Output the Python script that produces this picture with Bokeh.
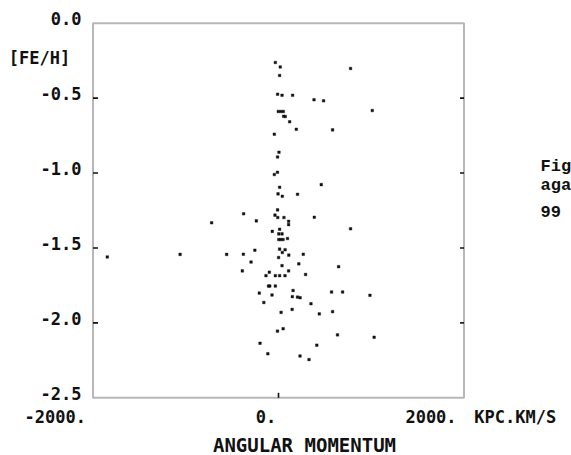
from bokeh.plotting import figure
from bokeh.models import Range1d, Label, BoxAnnotation
from bokeh.embed import file_html
from bokeh.resources import INLINE

# Angular momentum (kpc km/s) and [Fe/H]
ang_mom = [-34, 19, 777, 12, -10, 38, 152, 383, 486, 1011, -2, 25, 52, 55, 73,
           120, 192, 583, -45, 5, -10, -11, -45, 12, 461, -5, 41, 205, -10, -376,
           -38, -8, 59, 386, -239, -721, 109, 109, 12, -67, 777, 3, 38, 3, 25,
           49, 97, 12, 71, -255, 41, -379, -559, -1061, -1846, 111, 267, 1, -296,
           219, 38, 648, -390, -99, 109, 292, -135, -34, 12, 70, -108, -94, -34,
           157, -207, -70, 149, 205, 233, 572, 691, 986, -158, 350, 147, 28, 440,
           583, 50, -11, 636, 1031, -199, 413, -115, 232, 329]
feh = [-0.262, -0.292, -0.302, -0.349, -0.474, -0.481, -0.481, -0.511, -0.518,
       -0.583, -0.589, -0.589, -0.589, -0.621, -0.623, -0.658, -0.708, -0.712,
       -0.741, -0.861, -0.893, -0.995, -1.010, -1.095, -1.077, -1.139, -1.155,
       -1.142, -1.246, -1.272, -1.281, -1.297, -1.297, -1.295, -1.319, -1.332,
       -1.322, -1.344, -1.375, -1.389, -1.372, -1.406, -1.406, -1.444, -1.444,
       -1.444, -1.437, -1.508, -1.512, -1.515, -1.530, -1.542, -1.543, -1.543,
       -1.560, -1.548, -1.542, -1.564, -1.594, -1.606, -1.618, -1.625, -1.653,
       -1.662, -1.653, -1.677, -1.685, -1.685, -1.685, -1.685, -1.754, -1.754,
       -1.754, -1.784, -1.801, -1.814, -1.825, -1.828, -1.832, -1.794, -1.794,
       -1.816, -1.864, -1.872, -1.910, -1.930, -1.940, -1.925, -2.039, -2.055,
       -2.080, -2.096, -2.136, -2.149, -2.206, -2.221, -2.245]

x_min, x_max = -2000, 2000
y_min, y_max = -2.5, 0.0
y_ticks = [0.0, -0.5, -1.0, -1.5, -2.0, -2.5]
y_tick_labels = ["0.0", "-0.5", "-1.0", "-1.5", "-2.0", "-2.5"]
y_inner_ticks = [-0.5, -1.0, -1.5, -2.0]
x_ticks = [-2000, 0, 2000]
x_tick_labels = ["-2000.", "0.", "2000."]
x_inner_ticks = [0]
x_unit = "KPC.KM/S"
x_title = "ANGULAR MOMENTUM"
y_title = "[FE/H]"
caption_lines = ["Fig", "aga", "99"]

FONT = "DejaVu Sans Mono"
INK = "#111111"
W, H = 571, 455
# pixel geometry of the plotting box inside the canvas
BL, BR, BT, BB = 92.5, 463.5, 22.7, 397.3
xs = (x_max - x_min) / (BR - BL)   # data units per pixel
ys = (y_max - y_min) / (BB - BT)

def px_x(px):
    return x_min + (px - BL) * xs

def px_y(py):
    return y_max - (py - BT) * ys

p = figure(width=W, height=H,
           x_range=Range1d(px_x(0), px_x(W)), y_range=Range1d(px_y(H), px_y(0)),
           output_backend="svg", toolbar_location=None, min_border=0)
p.axis.visible = False
p.xgrid.visible = False
p.ygrid.visible = False
p.outline_line_color = None
p.background_fill_color = "white"
p.border_fill_color = "white"

# plotting box
p.add_layout(BoxAnnotation(left=x_min, right=x_max, bottom=y_min, top=y_max,
                           fill_color=None, line_color=INK, line_width=2))

# inward tick marks
p.segment(x0=[x_min] * len(y_inner_ticks), y0=y_inner_ticks,
          x1=[x_min + 5 * xs] * len(y_inner_ticks), y1=y_inner_ticks,
          line_color=INK, line_width=1.6)
p.segment(x0=[x_max] * len(y_inner_ticks), y0=y_inner_ticks,
          x1=[x_max - 4 * xs] * len(y_inner_ticks), y1=y_inner_ticks,
          line_color=INK, line_width=1.6)
p.segment(x0=x_inner_ticks, y0=[y_min] * len(x_inner_ticks),
          x1=x_inner_ticks, y1=[y_min + 5 * ys] * len(x_inner_ticks),
          line_color=INK, line_width=1.6)

p.scatter(ang_mom, feh, marker="square", size=2.6, fill_color=INK,
          line_color=INK, line_width=0.4)

def lab(x, y, text, size="17px", align="center", font=FONT, style="bold"):
    p.add_layout(Label(x=x, y=y, text=text, text_font=font, text_font_size=size,
                       text_font_style=style, text_align=align,
                       text_baseline="middle", text_color=INK))

# y tick labels: right edge 11px left of the box, sitting just above the tick
for v, t in zip(y_ticks, y_tick_labels):
    lab(px_x(81), v + 4.6 * ys, t, align="right")
lab(px_x(39), px_y(57), y_title)

# x tick labels below the box
x_label_px = [54.7, 265.5, 430.5]
for xp, t in zip(x_label_px, x_tick_labels):
    lab(px_x(xp), px_y(416.2), t)
lab(px_x(514.7), px_y(416.2), x_unit)
lab(px_x(304), px_y(444.5), x_title, size="19px")

# caption fragment of the scanned page at the right edge
cap_mid = [165.5, 185, 211]
for yp, t in zip(cap_mid, caption_lines):
    lab(px_x(540), px_y(yp), t, size="17px", align="left",
        font="Liberation Mono")

open("out.html", "w").write(file_html(p, INLINE))
